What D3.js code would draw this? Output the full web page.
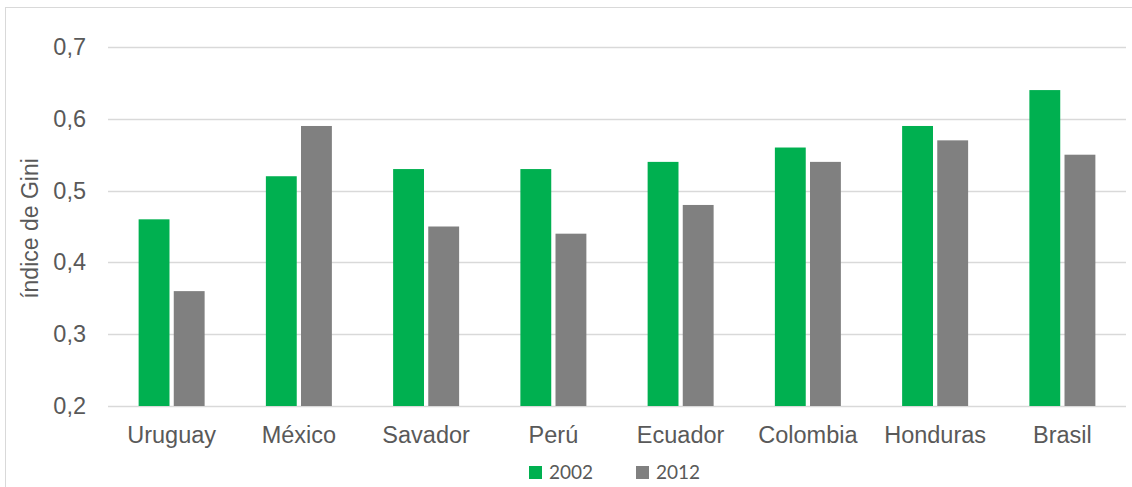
<!DOCTYPE html>
<html><head><meta charset="utf-8">
<script src="https://cdn.jsdelivr.net/npm/d3@7"></script>
<style>body{margin:0;background:#fff}svg{display:block}</style>
</head><body>
<svg id="c" width="1132" height="487"></svg>
<script>
const categories = ["Uruguay","México","Savador","Perú","Ecuador","Colombia","Honduras","Brasil"];
const series = ["2002","2012"];
const values2002 = [0.46,0.52,0.53,0.53,0.54,0.56,0.59,0.64];
const values2012 = [0.36,0.59,0.45,0.44,0.48,0.54,0.57,0.55];
const yTicks = [0.2,0.3,0.4,0.5,0.6,0.7];
const colors = ["#00B050","#808080"];

const svg = d3.select("#c");
const W = 1132, H = 487;
const m = {left:108, right:1126, top:47, bottom:406};
const FONT = "Liberation Sans, Arial, sans-serif";

svg.append("rect").attr("x",5.5).attr("y",7.5).attr("width",W).attr("height",H)
  .attr("fill","#fff").attr("stroke","#d9d9d9").attr("stroke-width",1);

const x = d3.scaleBand().domain(categories).range([m.left,m.right]).paddingInner(0).paddingOuter(0);
const x1 = d3.scaleBand().domain(series).range([0,66]).paddingInner(8/66);
const y = d3.scaleLinear().domain([0.2,0.7]).range([m.bottom,m.top]);

const fmt = d => d3.format(".1f")(d).replace(".",",");

// gridlines
svg.append("g").selectAll("line").data(yTicks).join("line")
  .attr("x1",m.left).attr("x2",m.right)
  .attr("y1",d=>Math.round(y(d))+0.5).attr("y2",d=>Math.round(y(d))+0.5)
  .attr("stroke","#d9d9d9").attr("stroke-width",1.3);

// y axis
const yAxis = d3.axisLeft(y).tickValues(yTicks).tickFormat(fmt).tickSize(0).tickPadding(22);
const gy = svg.append("g").attr("transform",`translate(${m.left},0)`).call(yAxis);
gy.select(".domain").remove();
gy.selectAll("text").attr("font-family",FONT).attr("font-size",23.5).attr("fill","#595959");

// bars
const data = categories.map((c,i)=>({c, v:[values2002[i],values2012[i]]}));
const bw = x1.bandwidth();
const groups = svg.append("g").selectAll("g").data(data).join("g")
  .attr("transform",d=>`translate(${x(d.c)+(x.bandwidth()-66)/2},0)`);
groups.selectAll("rect").data(d=>d.v.map((v,j)=>({s:series[j],v,j}))).join("rect")
  .attr("x",d=>x1(d.s)).attr("width",bw)
  .attr("y",d=>y(d.v)).attr("height",d=>y(0.2)-y(d.v))
  .attr("fill",d=>colors[d.j]);

// x axis
const xAxis = d3.axisBottom(x).tickSize(0).tickPadding(20);
const gx = svg.append("g").attr("transform",`translate(0,${m.bottom})`).call(xAxis);
gx.select(".domain").remove();
gx.selectAll("text").attr("font-family",FONT).attr("font-size",23.5).attr("fill","#595959");

// y title
svg.append("text").attr("transform","translate(38,228.5) rotate(-90)")
  .attr("text-anchor","middle").attr("font-family",FONT)
  .attr("font-size",23).attr("fill","#595959").text("índice de Gini");

// legend
const lx = [529,636];
const lg = svg.append("g").selectAll("g").data(series).join("g")
  .attr("transform",(d,i)=>`translate(${lx[i]},466)`);
lg.append("rect").attr("width",13).attr("height",13).attr("fill",(d,i)=>colors[i]);
lg.append("text").attr("x",20).attr("y",13).attr("font-family","Lato, 'Open Sans', sans-serif")
  .attr("font-size",19).attr("fill","#595959").text(d=>d);
</script>
</body></html>
